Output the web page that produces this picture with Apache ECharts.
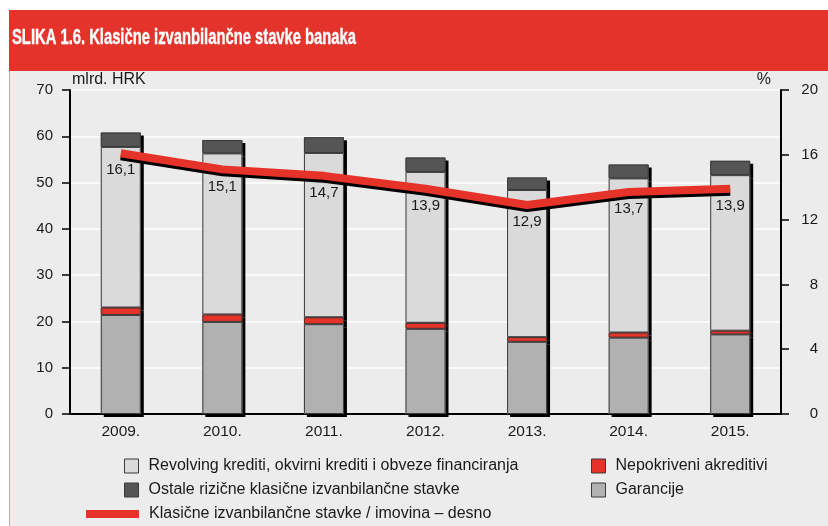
<!DOCTYPE html>
<html>
<head>
<meta charset="utf-8">
<script src="https://cdn.jsdelivr.net/npm/echarts@6/dist/echarts.min.js"></script>
<style>
  html, body { margin: 0; padding: 0; background: #fff; }
  #chart { width: 828px; height: 526px; }
</style>
</head>
<body>
<div id="chart"></div>
<script>
// podaci (mlrd. HRK, lijeva os; udio u %, desna os)
const years = ['2009.', '2010.', '2011.', '2012.', '2013.', '2014.', '2015.'];
const garancije = [21.4, 19.9, 19.4, 18.4, 15.6, 16.5, 17.2];
const nepokriveni = [1.6, 1.6, 1.5, 1.3, 1.0, 1.1, 0.8];
const revolving = [34.7, 34.8, 35.5, 32.6, 31.8, 33.3, 33.6];
const ostale = [3.1, 2.9, 3.4, 3.1, 2.7, 3.0, 3.1];
const udioImovina = [16.1, 15.1, 14.7, 13.9, 12.9, 13.7, 13.9];

const FONT = '"Liberation Sans", Arial, Helvetica, sans-serif';
const RED = '#e5332a';
const EDGE = '#3a3a3a';
const titleText = 'SLIKA 1.6. Klasične izvanbilančne stavke banaka';
const titleFont = 'bold 22px "Liberation Sans Narrow", "Liberation Sans", Arial, sans-serif';

// naslov je zbijen (condensed), pa ga stisnemo na sirinu iz originala
const cv = document.createElement('canvas').getContext('2d');
cv.font = titleFont;
const titleScale = 344 / cv.measureText(titleText).width;

const chart = echarts.init(document.getElementById('chart'));

const noShadow = { shadowColor: 'rgba(0,0,0,0)', shadowBlur: 0, shadowOffsetX: 0, shadowOffsetY: 0 };

// ispuna sa sjenom (bez ruba, inace se i rub sjenca)
function barSeries(name, data, color, z) {
  return {
    name: name,
    type: 'bar',
    stack: 'total',
    barWidth: 40,
    barGap: '-100%',
    z: z,
    data: data,
    itemStyle: { color: color, borderWidth: 0, shadowColor: '#000', shadowBlur: 0, shadowOffsetX: 3, shadowOffsetY: 3 }
  };
}

// tanki rub preko ispune
function edgeSeries(name, data) {
  return {
    name: name + ' (rub)',
    type: 'bar',
    stack: 'rub',
    barWidth: 40,
    barGap: '-100%',
    z: 8,
    silent: true,
    data: data,
    itemStyle: { color: 'rgba(0,0,0,0)', borderColor: EDGE, borderWidth: 1 }
  };
}

function legendItem(name, left, top, extra) {
  return Object.assign({
    data: [name],
    left: left,
    top: top,
    padding: 0,
    orient: 'horizontal',
    icon: 'rect',
    itemWidth: 14,
    itemHeight: 14,
    selectedMode: false,
    itemStyle: Object.assign({ borderColor: EDGE, borderWidth: 1 }, noShadow),
    textStyle: { fontFamily: FONT, fontSize: 16, color: '#1a1a1a', lineHeight: 16, padding: [0, 0, 0, 5] }
  }, extra || {});
}

const option = {
  backgroundColor: '#fff',
  animation: false,
  graphic: [
    { type: 'rect', z: -10, shape: { x: 9, y: 10, width: 819, height: 61 }, style: { fill: '#e4332b' } },
    { type: 'rect', z: -10, shape: { x: 9, y: 71, width: 819, height: 455 }, style: { fill: '#ececec' } },
    { type: 'line', z: -9, shape: { x1: 9.5, y1: 71, x2: 9.5, y2: 526 }, style: { stroke: '#e79a95', lineWidth: 1 } },
    {
      type: 'text', z: 10, x: 12, y: 38, scaleX: titleScale,
      style: { text: titleText, fill: '#fff', stroke: '#fff', lineWidth: 0.4, font: titleFont, align: 'left', verticalAlign: 'middle' }
    }
  ],
  grid: { left: 70, right: 47, top: 90, bottom: 112 },
  legend: [
    legendItem('Revolving krediti, okvirni krediti i obveze financiranja', 124, 458),
    legendItem('Ostale rizične klasične izvanbilančne stavke', 124, 482),
    legendItem('Klasične izvanbilančne stavke / imovina – desno', 86, 506,
      { itemWidth: 53, itemHeight: 8, itemStyle: Object.assign({ color: RED, borderWidth: 0 }, noShadow) }),
    legendItem('Nepokriveni akreditivi', 591, 458),
    legendItem('Garancije', 591, 482)
  ],
  xAxis: {
    type: 'category',
    data: years,
    boundaryGap: true,
    axisLine: { lineStyle: { color: '#000', width: 2 } },
    axisTick: { length: 6, lineStyle: { color: '#000', width: 1.5 } },
    axisLabel: { margin: 10, fontFamily: FONT, fontSize: 15.5, color: '#1a1a1a' },
    splitLine: { show: false }
  },
  yAxis: [
    {
      type: 'value',
      min: 0, max: 70, interval: 10,
      name: 'mlrd. HRK',
      nameLocation: 'end',
      nameGap: 2,
      nameTextStyle: { align: 'left', fontFamily: FONT, fontSize: 16, color: '#1a1a1a', padding: [0, 0, 0, 2] },
      axisLine: { show: true, lineStyle: { color: '#000', width: 2 } },
      axisTick: { show: true, length: 8, lineStyle: { color: '#000', width: 1.5 } },
      axisLabel: { margin: 17, fontFamily: FONT, fontSize: 15, color: '#1a1a1a' },
      splitLine: { show: true, lineStyle: { color: '#fff', width: 1.5 } }
    },
    {
      type: 'value',
      position: 'right',
      min: 0, max: 20, interval: 4,
      name: '%',
      nameLocation: 'end',
      nameGap: 2,
      nameTextStyle: { align: 'right', fontFamily: FONT, fontSize: 16, color: '#1a1a1a', padding: [0, 10, 0, 0] },
      axisLine: { show: true, lineStyle: { color: '#000', width: 2 } },
      axisTick: { show: true, length: 8, lineStyle: { color: '#000', width: 1.5 } },
      axisLabel: { margin: 37, align: 'right', fontFamily: FONT, fontSize: 15, color: '#1a1a1a' },
      splitLine: { show: false }
    }
  ],
  series: [
    barSeries('Garancije', garancije, '#b1b1b1', 6),
    barSeries('Nepokriveni akreditivi', nepokriveni, RED, 5),
    barSeries('Revolving krediti, okvirni krediti i obveze financiranja', revolving, '#dadada', 4),
    barSeries('Ostale rizične klasične izvanbilančne stavke', ostale, '#555555', 3),
    edgeSeries('Garancije', garancije),
    edgeSeries('Nepokriveni akreditivi', nepokriveni),
    edgeSeries('Revolving krediti', revolving),
    edgeSeries('Ostale', ostale),
    {
      name: 'Klasične izvanbilančne stavke / imovina – desno',
      type: 'line',
      yAxisIndex: 1,
      z: 10,
      data: udioImovina,
      symbol: 'circle',
      symbolSize: 1,
      itemStyle: { color: 'rgba(0,0,0,0)' },
      lineStyle: { color: RED, width: 8, cap: 'butt', join: 'bevel', shadowColor: '#000', shadowBlur: 0, shadowOffsetY: 3 },
      label: {
        show: true,
        position: 'bottom',
        distance: 9,
        fontFamily: FONT,
        fontSize: 15,
        color: '#1a1a1a',
        formatter: function (p) { return String(p.value).replace('.', ','); }
      }
    }
  ]
};

chart.setOption(option);
</script>
</body>
</html>
